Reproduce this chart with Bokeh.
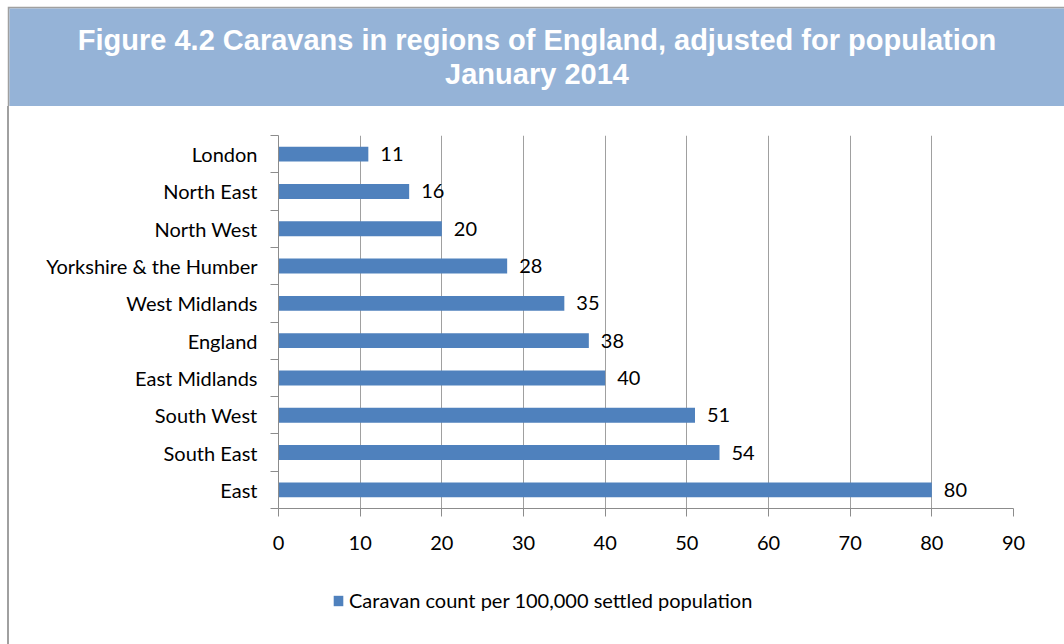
from bokeh.plotting import figure
from bokeh.models import Range1d, FixedTicker, Label, Legend, LegendItem, Spacer, ColumnDataSource
from bokeh.layouts import column, row
from bokeh.embed import file_html
from bokeh.resources import INLINE
from bokeh.core.properties import value

# ---- data ----
regions = ["East", "South East", "South West", "East Midlands", "England",
           "West Midlands", "Yorkshire & the Humber", "North West", "North East", "London"]
counts = [80, 54, 51, 40, 38, 35, 28, 20, 16, 11]
x_ticks = [0, 10, 20, 30, 40, 50, 60, 70, 80, 90]
title_line1 = "Figure 4.2 Caravans in regions of England, adjusted for population"
title_line2 = "January 2014"
series_name = "Caravan count per 100,000 settled population"

positions = list(range(1, len(regions) + 1))
src = ColumnDataSource(dict(region=regions, count=counts, pos=positions,
                            label=[str(c) for c in counts]))

FONT = "Lato"
GRAY = "#8c8c8c"
BORDER = "#a0a0a0"
BAR = "#4F81BD"

# ---- banner ----
banner = figure(width=1057, height=100, x_range=Range1d(0, 1), y_range=Range1d(0, 1),
                x_axis_type=None, y_axis_type=None, toolbar_location=None,
                output_backend="svg", min_border_left=2, min_border_top=2,
                min_border_right=0, min_border_bottom=0,
                background_fill_color="#95B3D7", border_fill_color=BORDER,
                outline_line_color=None)
for txt, yy in [(title_line1, 0.676), (title_line2, 0.33)]:
    banner.add_layout(Label(x=0.5, y=yy, text=txt, text_align="center",
                            text_baseline="alphabetic", text_color="white",
                            text_font="Liberation Sans", text_font_style="bold",
                            text_font_size="29px"))

# ---- main chart ----
p = figure(width=1055, height=454, x_range=Range1d(0, 90),
           y_range=Range1d(0.5, len(regions) + 0.5),
           toolbar_location=None, output_backend="svg",
           min_border_left=269, min_border_right=51, min_border_top=29,
           min_border_bottom=52, outline_line_color=None,
           background_fill_color="white", border_fill_color="white")

r = p.hbar(y="pos", left=0, right="count", height=0.4, source=src,
           fill_color=BAR, line_color=None)

p.text(x="count", y="pos", text="label", source=src, x_offset=12,
       text_baseline="middle", text_align="left", text_font=value(FONT),
       text_font_size="20px", text_color="#000000")

# y axis
p.yaxis.ticker = FixedTicker(ticks=positions,
                             minor_ticks=[i + 0.5 for i in range(len(regions) + 1)])
overrides = {}
for pos, name in zip(positions, regions):
    overrides[pos] = name
    overrides[str(pos)] = name
p.yaxis.major_label_overrides = overrides
p.yaxis.major_tick_line_color = None
p.yaxis.major_tick_out = 8
p.yaxis.major_tick_in = 0
p.yaxis.minor_tick_line_color = GRAY
p.yaxis.minor_tick_out = 8
p.yaxis.minor_tick_in = 0
p.yaxis.axis_line_color = GRAY
p.yaxis.major_label_standoff = 13
p.yaxis.major_label_text_font = FONT
p.yaxis.major_label_text_font_size = "20px"
p.yaxis.major_label_text_color = "#000000"

# x axis
p.xaxis.ticker = FixedTicker(ticks=x_ticks)
p.xaxis.major_tick_out = 8
p.xaxis.major_tick_in = 0
p.xaxis.minor_tick_line_color = None
p.xaxis.major_tick_line_color = GRAY
p.xaxis.axis_line_color = GRAY
p.xaxis.major_label_standoff = 19
p.xaxis.major_label_text_font = FONT
p.xaxis.major_label_text_font_size = "20px"
p.xaxis.major_label_text_color = "#000000"

p.xgrid.ticker = FixedTicker(ticks=x_ticks)
p.xgrid.grid_line_color = "#a0a0a0"
p.ygrid.visible = False

# ---- legend strip (same series, hidden renderer provides the swatch) ----
leg_fig = figure(width=1055, height=84, x_range=Range1d(0, 1), y_range=Range1d(0, 1),
                 x_axis_type=None, y_axis_type=None, toolbar_location=None,
                 output_backend="svg", min_border=0, outline_line_color=None,
                 background_fill_color="white", border_fill_color="white")
leg_r = leg_fig.hbar(y="pos", left=0, right="count", height=0.4, source=src,
                     fill_color=BAR, line_color=None, visible=False)
legend = Legend(items=[LegendItem(label=series_name, renderers=[leg_r])],
                location=(54, 32), orientation="horizontal",
                border_line_color=None, background_fill_alpha=0,
                label_text_font=FONT, label_text_font_size="20px",
                label_text_color="#000000",
                glyph_width=12, glyph_height=13, label_standoff=5,
                padding=0, margin=0, spacing=0)
leg_fig.add_layout(legend, "center")

left_border = Spacer(width=2, height=538, styles={"background-color": BORDER})
inner = column(banner, row(left_border, column(p, leg_fig)))
layout = column(Spacer(width=1064, height=6), row(Spacer(width=7, height=638), inner))

open("out.html", "w").write(file_html(layout, INLINE))
